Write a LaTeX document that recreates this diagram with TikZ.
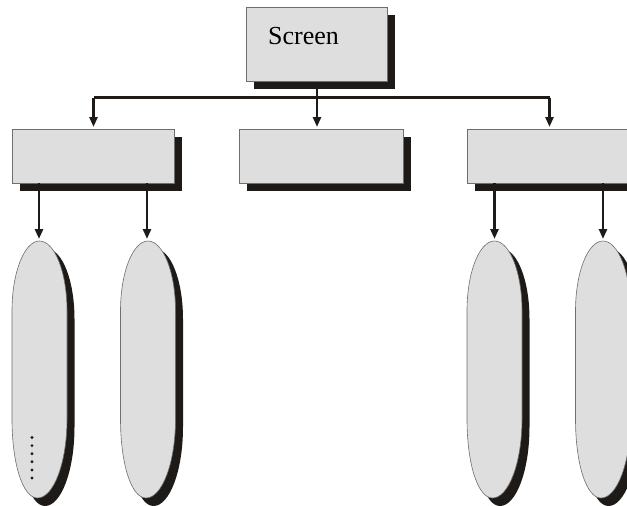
\documentclass[tikz,border=0pt]{standalone}
\usepackage{fontspec}
\setmainfont{Liberation Serif}
\usetikzlibrary{shadows,arrows.meta}
\definecolor{boxfill}{HTML}{DEDEDE}
\definecolor{boxline}{HTML}{6E6E6E}
\definecolor{shadowc}{HTML}{1E1A18}
\tikzset{
  dshadow/.style={drop shadow={shadow xshift=7.5pt, shadow yshift=-8pt, opacity=1, fill=shadowc}},
  box/.style={rectangle, draw=boxline, line width=0.8pt, fill=boxfill, inner sep=0pt, dshadow},
  podpath/.style={draw=boxline, line width=0.6pt, fill=boxfill, dshadow},
  conn/.style={draw=shadowc, line width=2.6pt, -{Triangle[width=8pt,length=10pt]}, shorten >=2pt},
  bus/.style={draw=shadowc, line width=3pt},
  dotc/.style={circle, fill=shadowc, inner sep=0pt, minimum size=3.2pt},
  pics/pod/.style={code={
    \path[podpath] (0,0) .. controls (15,0) and (27.5,31) .. (27.5,70)
      -- (27.5,178) .. controls (27.5,222) and (14,257) .. (-2,257)
      .. controls (-17,257) and (-27.5,222) .. (-27.5,178)
      -- (-27.5,70) .. controls (-27.5,31) and (-15,0) .. (0,0) -- cycle;
  }}
}
\begin{document}
\begin{tikzpicture}[x=1pt,y=-1pt]
\useasboundingbox (0,0) rectangle (627,506);
\clip (0,0) rectangle (627,506);
% bus and connectors from the screen
\coordinate (busL) at (93.5,97.5);
\coordinate (busR) at (549.5,97.5);
\draw[bus] (busL) -- (busR);
\draw[conn] (317,80) -- (317,129);
\draw[conn] (busL) -- (93.5,129);
\draw[conn] (busR) -- (549.5,129);
% boxes
\node[box, minimum width=141pt, minimum height=74pt] (screen) at (316.5,44) {};
\node[font=\fontsize{26}{30}\selectfont, anchor=base, inner sep=0pt] (screentext) at (303.5,44.5) {Screen};
\node[box, minimum width=162pt, minimum height=54pt] (lbox) at (93,156) {};
\node[box, minimum width=164pt, minimum height=54pt] (mbox) at (321,156) {};
\node[box, minimum width=162pt, minimum height=54pt] (rbox) at (548,156) {};
% pods
\pic at (39.5,241) {pod};
\pic at (148,241) {pod};
\pic at (494.5,241) {pod};
\pic at (603,241) {pod};
\coordinate (p1) at (39,241);
\coordinate (p2) at (147,241);
\coordinate (p3) at (494.5,241);
\coordinate (p4) at (603,241);
% arrows from boxes to pods
\draw[conn] (lbox.south -| p1) -- (p1);
\draw[conn] (lbox.south -| p2) -- (p2);
\draw[conn] (rbox.south -| p3) -- (p3);
\draw[conn] (rbox.south -| p4) -- (p4);
% dots
\foreach \i in {0,...,5} {
  \node[dotc] (d\i) at (32,437.5+8.1*\i) {};
}
\end{tikzpicture}
\end{document}
